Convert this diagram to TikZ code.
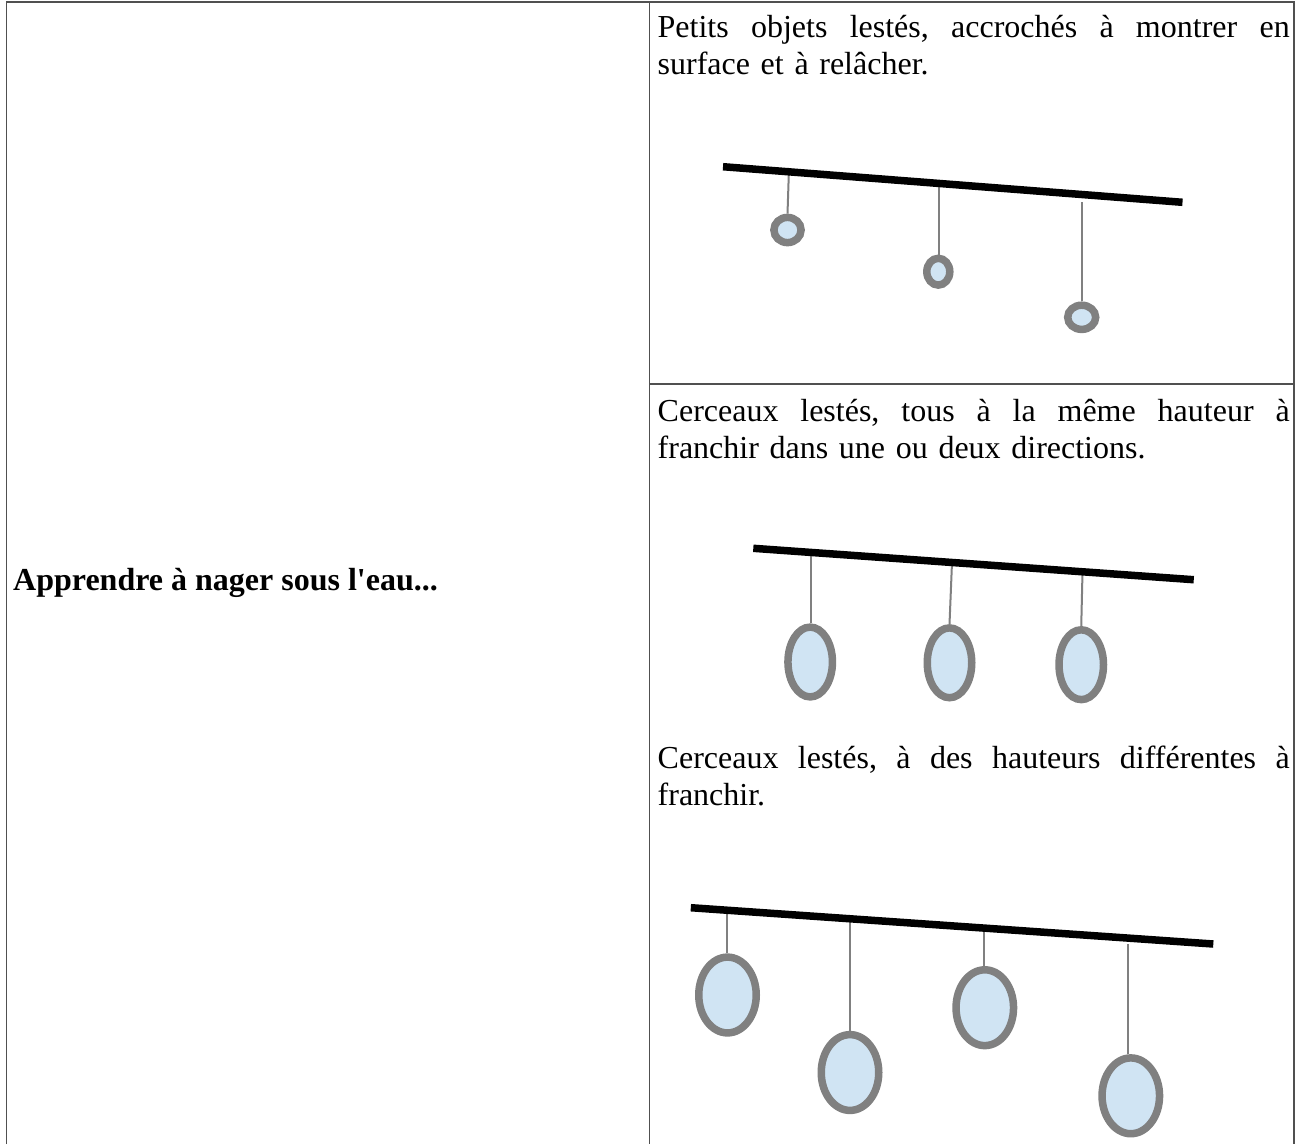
\documentclass[tikz,border=0pt]{standalone}
\usepackage{fontspec}
\setmainfont{Liberation Serif}[Ligatures=TeXOff]
\usetikzlibrary{shapes.geometric}
\definecolor{ringfill}{RGB}{208,228,243}
\definecolor{ringedge}{RGB}{128,128,128}
\definecolor{rulecol}{RGB}{80,80,80}
\newcommand\jsp{\hspace{0pt plus 1fil}}
\newcommand\jline[1]{\leavevmode\hbox to 632pt{#1}}
\begin{document}
\begin{tikzpicture}[x=1pt,y=-1pt,
  frame/.style={draw=rulecol, line width=1.5pt},
  bar/.style={line width=7.5pt, draw=black},
  cord/.style={line width=2pt, draw=ringedge},
  ring/.style={ellipse, draw=ringedge, line width=7.5pt, fill=ringfill, inner sep=0pt},
  txt/.style={anchor=base west, inner sep=0pt, text width=632pt, font=\fontsize{32pt}{36.8pt}\selectfont}]
\fill[white] (0,0) rectangle (1299,1144);
\useasboundingbox (0,0) rectangle (1299,1144);
% table frame
\draw[frame] (6.5,1144) -- (6.5,2) -- (1294,2) -- (1294,1144);
\draw[frame] (649.5,2) -- (649.5,1144);
\draw[frame] (649.5,384) -- (1294,384);
% texts
\node[anchor=base west, inner sep=0pt, font=\fontsize{32pt}{36.8pt}\selectfont\bfseries] (title) at (13,590) {Apprendre à nager sous l'eau...};
\node[txt] (t1) at (657.5,37.3) {\jline{Petits \jsp objets \jsp lestés, \jsp accrochés \jsp à \jsp montrer \jsp en}\\surface et à relâcher.};
\node[txt] (t2) at (657.5,421.7) {\jline{Cerceaux \jsp lestés, \jsp tous \jsp à \jsp la \jsp même \jsp hauteur \jsp à}\\franchir dans une ou deux directions.};
\node[txt] (t3) at (657.5,768.3) {\jline{Cerceaux \jsp lestés, \jsp à \jsp des \jsp hauteurs \jsp différentes \jsp à}\\franchir.};
% ---- cell 1: small weighted objects
\node[ring, minimum width=27.2pt, minimum height=25.2pt] (e11) at (787.5,230) {};
\node[ring, minimum width=23pt, minimum height=26.8pt] (e12) at (938.3,271.7) {};
\node[ring, minimum width=28pt, minimum height=24.2pt] (e13) at (1081.7,317.3) {};
\coordinate (b1a) at (723,166.7);
\coordinate (b1b) at (1182.5,202.3);
\coordinate (s11) at (789,168);
\coordinate (s12) at (938.8,183.4);
\coordinate (s13) at (1082,202);
\draw[cord] (s11) -- (e11.north);
\draw[cord] (s12) -- (s12 |- e12.north);
\draw[cord] (s13) -- (s13 |- e13.north);
\draw[bar] (b1a) -- (b1b);
% ---- cell 2: hoops at the same height
\node[ring, minimum width=44.5pt, minimum height=69.8pt] (e21) at (810.2,662) {};
\node[ring, minimum width=44.5pt, minimum height=69.8pt] (e22) at (949.5,662.8) {};
\node[ring, minimum width=44.5pt, minimum height=69.8pt] (e23) at (1081.25,664.7) {};
\coordinate (b2a) at (753.3,548.3);
\coordinate (b2b) at (1193.75,579.7);
\coordinate (s21) at (810.5,552.4);
\coordinate (s22) at (952,562.5);
\coordinate (s23) at (1082.5,571.8);
\draw[cord] (s21) -- (s21 |- e21.north);
\draw[cord] (s22) -- (e22.north);
\draw[cord] (s23) -- (e23.north);
\draw[bar] (b2a) -- (b2b);
% ---- cell 3: hoops at different heights
\node[ring, minimum width=57.5pt, minimum height=75.8pt] (e31) at (727.5,995) {};
\node[ring, minimum width=57.5pt, minimum height=75.8pt] (e32) at (850,1072.5) {};
\node[ring, minimum width=57.5pt, minimum height=75.8pt] (e33) at (984.8,1007.7) {};
\node[ring, minimum width=57.5pt, minimum height=75.8pt] (e34) at (1130.8,1095.8) {};
\coordinate (b3a) at (690.8,907.7);
\coordinate (b3b) at (1213.3,944);
\coordinate (s31) at (726.9,910.2);
\coordinate (s32) at (849.6,918.7);
\coordinate (s33) at (984.2,928.1);
\coordinate (s34) at (1127.9,944);
\draw[cord] (s31) -- (s31 |- e31.north);
\draw[cord] (s32) -- (s32 |- e32.north);
\draw[cord] (s33) -- (s33 |- e33.north);
\draw[cord] (s34) -- (s34 |- e34.north);
\draw[bar] (b3a) -- (b3b);
\end{tikzpicture}
\end{document}
